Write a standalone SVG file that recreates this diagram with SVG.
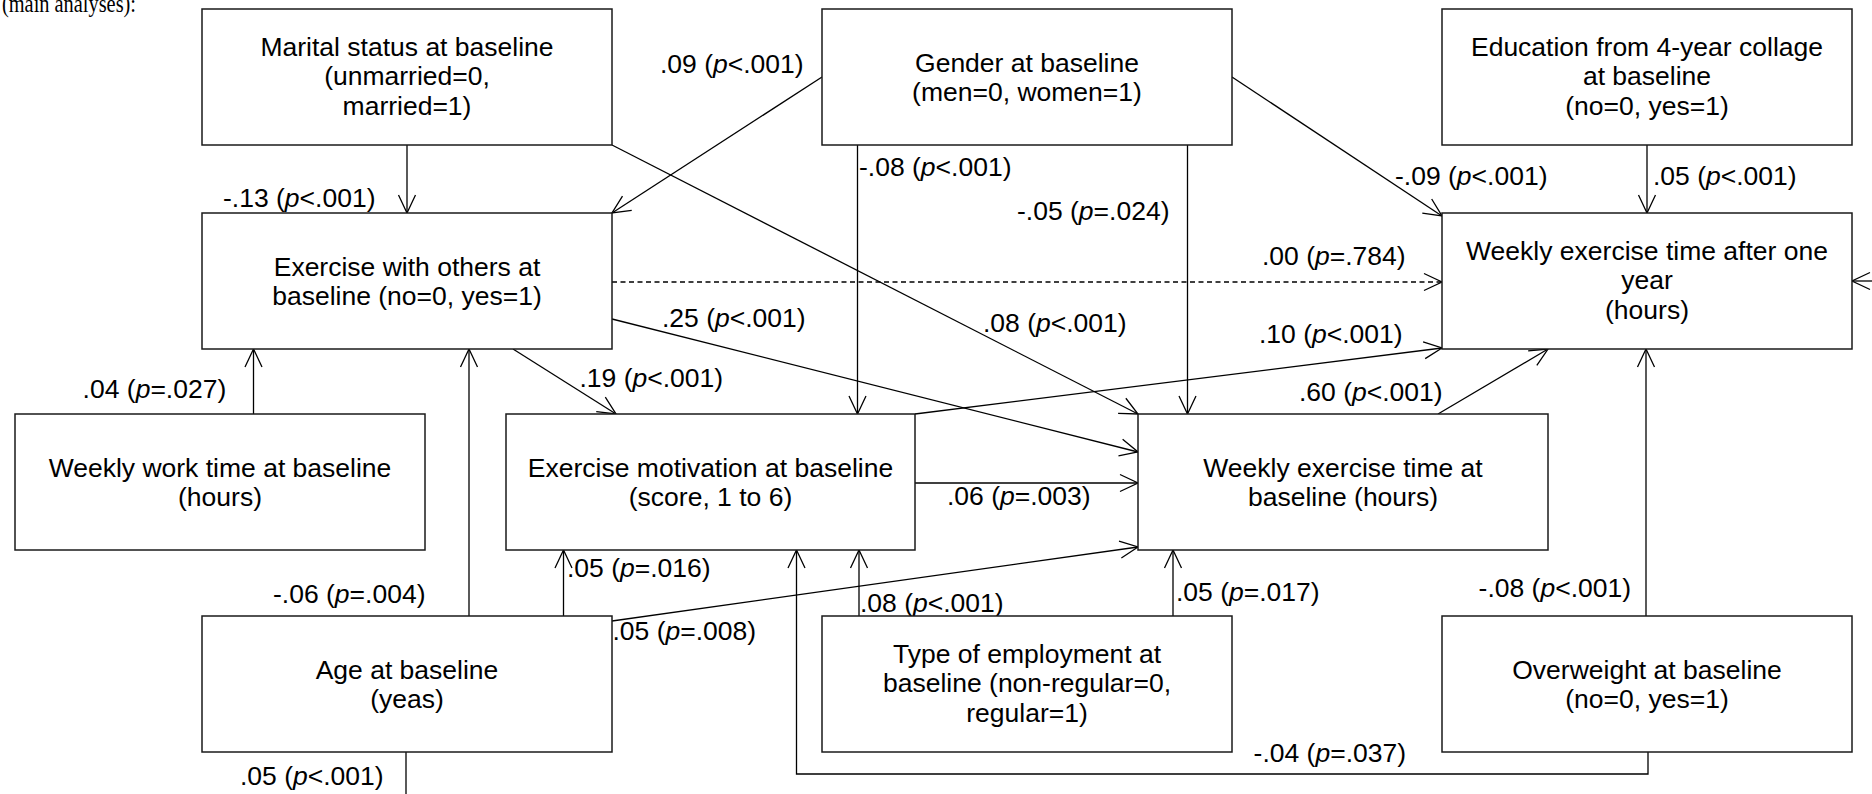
<svg xmlns="http://www.w3.org/2000/svg" width="1872" height="794" viewBox="0 0 1872 794">
<style>
.box{fill:#fff;stroke:#1a1a1a;stroke-width:1.5}
.t{font-family:"Liberation Sans",Arial,sans-serif;font-size:26.5px;fill:#000;text-anchor:middle}
.l{font-family:"Liberation Sans",Arial,sans-serif;font-size:26.5px;fill:#000}
.c{fill:none;stroke:#000;stroke-width:1.3;marker-end:url(#ah)}
.n{fill:none;stroke:#000;stroke-width:1.3}
.d{stroke-dasharray:5,3.5}
.cap{font-family:"Liberation Serif","Times New Roman",serif;font-size:25px;fill:#000}
</style>
<defs>
<marker id="ah" markerUnits="userSpaceOnUse" markerWidth="24" markerHeight="22" viewBox="-22 -11 24 22" refX="0" refY="0" orient="auto" overflow="visible">
<path d="M-18,-8.5 L0,0 L-18,8.5" fill="none" stroke="#000" stroke-width="1.3"/>
</marker>
</defs>
<rect width="1872" height="794" fill="#fff"/>
<text class="cap" x="2" y="12" textLength="134" lengthAdjust="spacingAndGlyphs">(main analyses):</text>

<g id="connectors">
<path class="c" d="M407,145 L407,213"/>
<path class="c" d="M822,77 L612,213"/>
<path class="c" d="M612,145 L1138,414"/>
<path class="c" d="M857.5,145 L857.5,414"/>
<path class="c" d="M1187.5,145 L1187.5,414"/>
<path class="c" d="M1232,77 L1442,216"/>
<path class="c" d="M1647,145 L1647,213"/>
<path class="c d" d="M612,282 L1442,282"/>
<path class="c" d="M612,319 L1138,452"/>
<path class="c" d="M513,349 L616,414"/>
<path class="c" d="M253.5,414 L253.5,349"/>
<path class="c" d="M469,616 L469,349"/>
<path class="c" d="M563.5,616 L563.5,550"/>
<path class="c" d="M612,621 L1138,547"/>
<path class="c" d="M915,483 L1138,483"/>
<path class="c" d="M915,414 L1442,348"/>
<path class="c" d="M1438,414 L1548,349"/>
<path class="c" d="M859,616 L859,550"/>
<path class="c" d="M1173,616 L1173,550"/>
<path class="c" d="M1646,616 L1646,349"/>
<path class="c" d="M1648,752 L1648,774 L796.5,774 L796.5,550"/>
<path class="c" d="M1872,281 L1852,281"/>
<path class="n" d="M406,752 L406,794"/>
<g id="edge-labels">
<text class="l" x="223" y="207">-.13 (<tspan font-style="italic">p</tspan>&lt;.001)</text>
<text class="l" x="660" y="73">.09 (<tspan font-style="italic">p</tspan>&lt;.001)</text>
<text class="l" x="983" y="332">.08 (<tspan font-style="italic">p</tspan>&lt;.001)</text>
<text class="l" x="859" y="176">-.08 (<tspan font-style="italic">p</tspan>&lt;.001)</text>
<text class="l" x="1017" y="220">-.05 (<tspan font-style="italic">p</tspan>=.024)</text>
<text class="l" x="1395" y="185">-.09 (<tspan font-style="italic">p</tspan>&lt;.001)</text>
<text class="l" x="1653" y="185">.05 (<tspan font-style="italic">p</tspan>&lt;.001)</text>
<text class="l" x="1262" y="265">.00 (<tspan font-style="italic">p</tspan>=.784)</text>
<text class="l" x="662" y="327">.25 (<tspan font-style="italic">p</tspan>&lt;.001)</text>
<text class="l" x="579.5" y="387">.19 (<tspan font-style="italic">p</tspan>&lt;.001)</text>
<text class="l" x="82.6" y="398">.04 (<tspan font-style="italic">p</tspan>=.027)</text>
<text class="l" x="273" y="603">-.06 (<tspan font-style="italic">p</tspan>=.004)</text>
<text class="l" x="567" y="577">.05 (<tspan font-style="italic">p</tspan>=.016)</text>
<text class="l" x="612.5" y="640">.05 (<tspan font-style="italic">p</tspan>=.008)</text>
<text class="l" x="947" y="505">.06 (<tspan font-style="italic">p</tspan>=.003)</text>
<text class="l" x="1259" y="343">.10 (<tspan font-style="italic">p</tspan>&lt;.001)</text>
<text class="l" x="1299" y="401">.60 (<tspan font-style="italic">p</tspan>&lt;.001)</text>
<text class="l" x="860" y="612">.08 (<tspan font-style="italic">p</tspan>&lt;.001)</text>
<text class="l" x="1176" y="601">.05 (<tspan font-style="italic">p</tspan>=.017)</text>
<text class="l" x="1478.6" y="597">-.08 (<tspan font-style="italic">p</tspan>&lt;.001)</text>
<text class="l" x="1253.6" y="762">-.04 (<tspan font-style="italic">p</tspan>=.037)</text>
<text class="l" x="240" y="785">.05 (<tspan font-style="italic">p</tspan>&lt;.001)</text>
</g>
</g>

<g id="marital">
<rect class="box" x="202" y="9" width="410" height="136"/>
<text class="t" x="407" y="55.5">Marital status at baseline</text>
<text class="t" x="407" y="85">(unmarried=0,</text>
<text class="t" x="407" y="114.5">married=1)</text>
</g>
<g id="gender">
<rect class="box" x="822" y="9" width="410" height="136"/>
<text class="t" x="1027" y="71.5">Gender at baseline</text>
<text class="t" x="1027" y="101">(men=0, women=1)</text>
</g>
<g id="education">
<rect class="box" x="1442" y="9" width="410" height="136"/>
<text class="t" x="1647" y="55.5">Education from 4-year collage</text>
<text class="t" x="1647" y="85">at baseline</text>
<text class="t" x="1647" y="114.5">(no=0, yes=1)</text>
</g>
<g id="exercise-with-others">
<rect class="box" x="202" y="213" width="410" height="136"/>
<text class="t" x="407" y="275.5">Exercise with others at</text>
<text class="t" x="407" y="305">baseline (no=0, yes=1)</text>
</g>
<g id="weekly-exercise-after">
<rect class="box" x="1442" y="213" width="410" height="136"/>
<text class="t" x="1647" y="259.5">Weekly exercise time after one</text>
<text class="t" x="1647" y="289">year</text>
<text class="t" x="1647" y="318.5">(hours)</text>
</g>
<g id="weekly-work">
<rect class="box" x="15" y="414" width="410" height="136"/>
<text class="t" x="220" y="476.5">Weekly work time at baseline</text>
<text class="t" x="220" y="506">(hours)</text>
</g>
<g id="motivation">
<rect class="box" x="506" y="414" width="409" height="136"/>
<text class="t" x="710.5" y="476.5">Exercise motivation at baseline</text>
<text class="t" x="710.5" y="506">(score, 1 to 6)</text>
</g>
<g id="weekly-exercise-baseline">
<rect class="box" x="1138" y="414" width="410" height="136"/>
<text class="t" x="1343" y="476.5">Weekly exercise time at</text>
<text class="t" x="1343" y="506">baseline (hours)</text>
</g>
<g id="age">
<rect class="box" x="202" y="616" width="410" height="136"/>
<text class="t" x="407" y="678.5">Age at baseline</text>
<text class="t" x="407" y="708">(yeas)</text>
</g>
<g id="employment">
<rect class="box" x="822" y="616" width="410" height="136"/>
<text class="t" x="1027" y="662.5">Type of employment at</text>
<text class="t" x="1027" y="692">baseline (non-regular=0,</text>
<text class="t" x="1027" y="721.5">regular=1)</text>
</g>
<g id="overweight">
<rect class="box" x="1442" y="616" width="410" height="136"/>
<text class="t" x="1647" y="678.5">Overweight at baseline</text>
<text class="t" x="1647" y="708">(no=0, yes=1)</text>
</g>
</svg>
